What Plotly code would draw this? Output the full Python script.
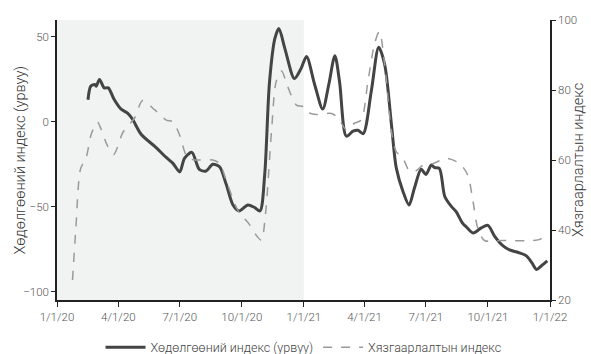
import plotly.graph_objects as go

# Mobility index (inverted) - left axis
mob_dates = ["2020-02-16","2020-02-20","2020-02-26","2020-02-28","2020-03-04","2020-03-11","2020-03-17",
             "2020-03-26","2020-04-05","2020-04-15","2020-04-22","2020-05-05","2020-05-25","2020-06-11",
             "2020-06-21","2020-07-01","2020-07-08","2020-07-19","2020-07-30","2020-08-09","2020-08-19",
             "2020-08-29","2020-09-08","2020-09-18","2020-09-27","2020-10-10","2020-10-20","2020-10-28",
             "2020-11-04","2020-11-11","2020-11-19","2020-11-25","2020-12-04","2020-12-18","2020-12-28",
             "2021-01-05","2021-01-17","2021-01-29","2021-02-07","2021-02-16","2021-02-23","2021-03-05",
             "2021-03-15","2021-03-22","2021-03-30","2021-04-11","2021-04-22","2021-05-01","2021-05-11",
             "2021-05-18","2021-05-28","2021-06-06","2021-06-14","2021-06-24","2021-07-01","2021-07-09",
             "2021-07-14","2021-07-21","2021-07-29","2021-08-08","2021-08-15","2021-08-24","2021-08-30",
             "2021-09-09","2021-09-21","2021-10-01","2021-10-11","2021-10-23","2021-11-02","2021-11-15",
             "2021-11-27","2021-12-05","2021-12-12","2021-12-19","2021-12-28"]
mob_values = [13,21,22,21,25,20,20,
              13,7.5,5,1.5,-7.5,-14.5,-21,
              -24.5,-29.5,-21.5,-18,-28,-29,-25,
              -26.5,-37,-49,-52.5,-49,-50.5,-52.5,
              -31,23,49,55,43,25.5,31.5,
              38.5,22,7.5,22,39,23.5,-8.5,
              -5.5,-5,-7,18,44,33.5,-2,
              -27,-41,-49,-39,-28,-31,-25.5,
              -27,-27.5,-44,-50,-53,-59.5,-62,
              -65.5,-62.5,-61,-67.5,-73,-75.5,-77,
              -79,-83,-87,-85,-82]

# Restriction (stringency) index - right axis
str_dates = ["2020-01-24","2020-01-29","2020-02-05","2020-02-13","2020-02-21","2020-03-01","2020-03-06",
             "2020-03-16","2020-03-25","2020-04-08","2020-04-25","2020-05-07","2020-05-25","2020-06-11",
             "2020-06-21","2020-07-01","2020-07-08","2020-07-13","2020-07-25","2020-08-19","2020-08-29",
             "2020-09-10","2020-09-25","2020-10-13","2020-10-22","2020-10-30","2020-11-05","2020-11-14",
             "2020-11-21","2020-11-29","2020-12-08","2020-12-21","2020-12-31","2021-01-05","2021-01-19",
             "2021-02-11","2021-02-21","2021-03-05","2021-03-17","2021-03-27","2021-04-06","2021-04-16",
             "2021-04-23","2021-05-01","2021-05-11","2021-05-18","2021-05-28","2021-06-07","2021-06-17",
             "2021-06-27","2021-07-12","2021-07-31","2021-08-20","2021-09-01","2021-09-09","2021-09-16",
             "2021-09-26","2021-10-23","2021-12-06","2021-12-18","2021-12-28"]
str_values = [25.7,40.5,57.5,60.5,67.5,70.8,69,
              64,61.6,68,72,77,74.3,71.4,
              70.9,67,62.5,60.5,60,60,59,
              53,45.7,41.4,38.6,37.1,44.3,68,
              82.4,85.4,81,75.7,75.2,73.8,73,
              73.3,72,68.6,70.5,71.4,82.4,93.3,
              96.7,87,68,62.4,60.5,56.7,57,
              58.6,59,60.5,59,55.7,48,40.5,
              37,37,37,37.4,39]

x_tickvals = ["2020-01-01","2020-04-01","2020-07-01","2020-10-01","2021-01-01",
              "2021-04-01","2021-07-01","2021-10-01","2022-01-01"]
x_ticktext = ["1/1/20","4/1/20","7/1/20","10/1/20","1/1/21","4/1/21","7/1/21","10/1/21","1/1/22"]

name_mob = "Хөдөлгөөний индекс (урвуу)"
name_str = "Хязгаарлалтын индекс"

fig = go.Figure()
fig.add_trace(go.Scatter(x=mob_dates, y=mob_values, name=name_mob, mode="lines",
                         line=dict(color="#444444", width=3, shape="spline", smoothing=0.8)))
fig.add_trace(go.Scatter(x=str_dates, y=str_values, name=name_str, mode="lines", yaxis="y2",
                         line=dict(color="#9a9a9a", width=1.5, dash="dash", shape="spline", smoothing=0.8)))

fig.add_shape(type="rect", xref="x", yref="paper", x0="2020-01-01", x1="2021-01-01", y0=0, y1=1,
              fillcolor="#f1f2f2", line=dict(width=0), layer="below")

title_font = dict(family="Roboto", size=14.5, color="#333333", weight=300)
fig.add_annotation(text=name_mob, xref="paper", yref="paper", x=-0.076, y=0.5, textangle=-90,
                   showarrow=False, xanchor="center", yanchor="middle", font=title_font)
fig.add_annotation(text=name_str, xref="paper", yref="paper", x=1.057, y=0.5, textangle=-90,
                   showarrow=False, xanchor="center", yanchor="middle", font=title_font)

tickfont = dict(family="Roboto", size=11.5, color="#555555", weight=300)
fig.update_layout(
    width=591, height=354,
    margin=dict(l=57, r=41, t=20, b=54, autoexpand=False),
    paper_bgcolor="white", plot_bgcolor="white",
    font=dict(family="Roboto", color="#333333"),
    showlegend=True,
    legend=dict(orientation="h", x=0.5, xanchor="center", xref="paper", yref="container",
                y=0.018, yanchor="middle", itemwidth=40,
                font=dict(family="Roboto", size=12.5, color="#444444", weight=300)),
    xaxis=dict(type="date", range=["2020-01-01", "2022-01-01"], tickvals=x_tickvals, ticktext=x_ticktext,
               showgrid=False, zeroline=False, showline=True, linecolor="#222222", linewidth=1.5,
               ticks="outside", ticklen=5, tickcolor="#222222", tickfont=tickfont, automargin=False),
    yaxis=dict(range=[-105, 60], tickvals=[-100, -50, 0, 50], showgrid=False, zeroline=False,
               showline=True, linecolor="#222222", linewidth=1.5, ticks="outside", ticklen=4,
               tickcolor="#222222", tickfont=tickfont, automargin=False),
    yaxis2=dict(range=[20, 100], tickvals=[20, 40, 60, 80, 100], overlaying="y", side="right",
                showgrid=False, zeroline=False, showline=True, linecolor="#222222", linewidth=1.5,
                ticks="outside", ticklen=4, tickcolor="#222222", tickfont=tickfont, automargin=False),
)

fig.write_html("out.html", config={"displayModeBar": False},
               post_script="document.body.style.margin='0';")
